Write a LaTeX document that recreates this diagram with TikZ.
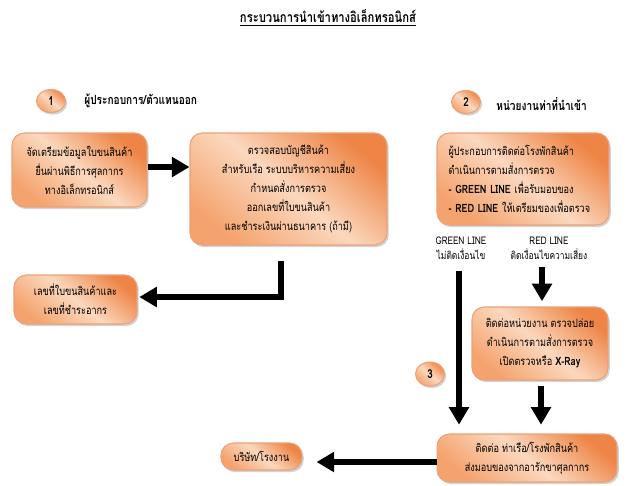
\documentclass[tikz,border=0pt]{standalone}
\usepackage{fontspec}
\setmainfont{Loma}[Script=Thai, FakeStretch=0.8]
\usetikzlibrary{arrows.meta,shadows,shapes.geometric}
\definecolor{orgdark}{HTML}{EE8546}
\definecolor{orglight}{HTML}{FBD8BE}
\definecolor{orgmid}{HTML}{F4A36E}
\definecolor{orgline}{HTML}{E9A27A}

\begin{document}
\begin{tikzpicture}[x=0.02cm,y=-0.02cm,
		step box/.style={draw=orgline, line width=0.6pt, rounded corners=7pt,
			top color=orgdark, bottom color=orgmid, middle color=orglight, shading angle=-40,
			drop shadow={opacity=0.35, shadow xshift=1pt, shadow yshift=-1.2pt},
			font=\fontsize{6.5}{10.8}\selectfont, align=center, inner sep=2pt},
		num/.style={ellipse, draw=orgline, line width=0.6pt,
			top color=orgdark, bottom color=orgmid, middle color=orglight, shading angle=-40,
			drop shadow={opacity=0.35, shadow xshift=1pt, shadow yshift=-1.2pt},
			font=\bfseries\fontsize{7}{9}\selectfont, minimum width=0.58cm, minimum height=0.46cm, inner sep=0pt},
		head/.style={font=\bfseries\fontsize{7.2}{9}\selectfont, anchor=west, inner sep=0pt},
		tag/.style={font=\fontsize{6}{8.5}\selectfont, align=center, inner sep=0pt},
		arr/.style={line width=3.4pt, -{Triangle[length=10pt,width=11pt]}}]
	\useasboundingbox (0,0) rectangle (631,485);
	
	% title
	\node[font=\bfseries\fontsize{8}{10}\selectfont, inner sep=0pt] (title) at (328,18) {\underline{กระบวนการนำเข้าทางอิเล็กทรอนิกส์}};
	
	% exporter side
	\node[num] (n1) at (51,101) {1};
	\node[head] (h1) at (84,101) {ผู้ประกอบการ/ตัวแทนออก};
	\node[step box, minimum width=2.70cm, minimum height=1.48cm] (prep) at (79.5,170)
		{จัดเตรียมข้อมูลใบขนสินค้า\\ยื่นผ่านพิธีการศุลกากร\\ทางอิเล็กทรอนิกส์};
	\node[step box, minimum width=3.94cm, minimum height=2.24cm] (check) at (288.5,189)
		{ตรวจสอบบัญชีสินค้า\\สำหรับเรือ ระบบบริหารความเสี่ยง\\กำหนดสั่งการตรวจ\\ออกเลขที่ใบขนสินค้า\\และชำระเงินผ่านธนาคาร (ถ้ามี)};
	\node[step box, minimum width=2.46cm, minimum height=0.98cm] (refno) at (75.5,299.5)
		{เลขที่ใบขนสินค้าและ\\เลขที่ชำระอากร};
	
	% port side
	\node[num] (n2) at (466,102) {2};
	\node[head] (h2) at (496,104) {หน่วยงานท่าที่นำเข้า};
	\node[step box, minimum width=3.44cm, minimum height=1.84cm, align=left, text width=2.98cm] (depot) at (523,179)
		{ผู้ประกอบการติดต่อโรงพักสินค้า\\ดำเนินการตามสั่งการตรวจ\\\textbf{- GREEN LINE} เพื่อรับมอบของ\\\textbf{- RED LINE} ให้เตรียมของเพื่อตรวจ};
	\node[tag] (green) at (461,248) {GREEN LINE\\ไม่ติดเงื่อนไข};
	\node[tag] (red) at (549,248) {RED LINE\\ติดเงื่อนไขความเสี่ยง};
	\node[step box, minimum width=2.72cm, minimum height=1.46cm] (inspect) at (540,343.5)
		{ติดต่อหน่วยงาน ตรวจปล่อย\\ดำเนินการตามสั่งการตรวจ\\เปิดตรวจหรือ \textbf{X-Ray}};
	\node[num, minimum height=0.48cm] (n3) at (430,374) {3};
	\node[step box, minimum width=3.6cm, minimum height=0.96cm] (release) at (527,458)
		{ติดต่อ ท่าเรือ/โรงพักสินค้า\\ส่งมอบของจากอารักขาศุลกากร};
	\node[step box, minimum width=1.62cm, minimum height=0.54cm] (firm) at (261.5,456.5) {บริษัท/โรงงาน};
	
	\coordinate (bstart) at (281,261);
	\coordinate (gstart) at (459,271);
	\coordinate (rstart) at (542,267);
	
	\draw[arr] (prep.east |- 0,167) -- (check.west |- 0,167);
	\draw[arr] (bstart) |- ([xshift=1pt]refno.east |- 0,297);
	\draw[arr, shorten >=5pt] (gstart) -- (gstart |- release.north);
	\draw[arr, shorten >=3pt] (rstart) -- (rstart |- inspect.north);
	\draw[arr, shorten <=3pt, shorten >=5pt] (inspect.south -| 541,0) -- (release.north -| 541,0);
	\draw[arr, shorten >=8pt] (release.west |- 0,462) -- (firm.east |- 0,462);
\end{tikzpicture}
\end{document}
